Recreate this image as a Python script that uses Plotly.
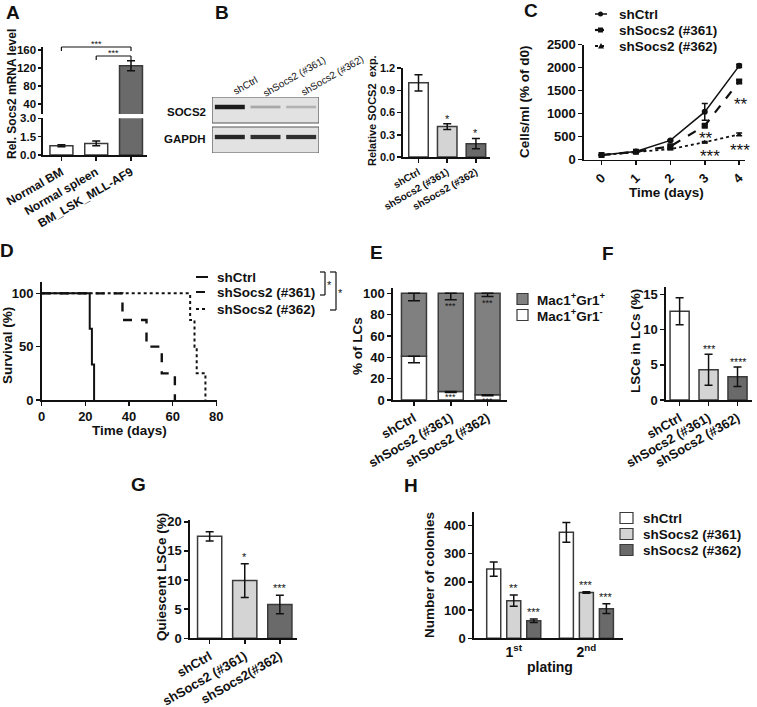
import plotly.graph_objects as go

W, H = 757, 707
FONT = "Liberation Sans, Arial, sans-serif"
BLACK = "#111111"
OUTLINE = "#3a3a3a"
C_WHITE = "#ffffff"
C_LIGHT = "#d4d4d4"
C_DARK = "#6a6a6a"
C_E = "#808080"

# ------------------------------------------------------------------ data
# A
a_cats = ["Normal BM", "Normal spleen", "BM_LSK_MLL-AF9"]
a_vals = [0.75, 0.95, 125.0]
a_errs = [0.08, 0.2, 11.0]
a_colors = [C_WHITE, C_WHITE, C_DARK]

# B
sh_cats = ["shCtrl", "shSocs2 (#361)", "shSocs2 (#362)"]
b_vals = [1.0, 0.41, 0.18]
b_errs = [0.11, 0.04, 0.07]
b_sig = ["", "*", "*"]
blot_rows = ["SOCS2", "GAPDH"]
blot_socs2 = [1.0, 0.3, 0.25]
blot_gapdh = [0.95, 0.9, 0.9]

# C
c_days = [0, 1, 2, 3, 4]
c_ctrl = [100, 180, 420, 1040, 2040]
c_ctrl_err = [0, 0, 15, 180, 35]
c_361 = [100, 175, 290, 740, 1700]
c_361_err = [0, 0, 20, 25, 30]
c_362 = [100, 170, 230, 380, 550]
c_362_err = [0, 0, 15, 15, 30]
c_names = ["shCtrl", "shSocs2 (#361)", "shSocs2 (#362)"]

# D
d_ctrl_t = [0, 22, 23, 24]
d_ctrl_s = [100, 66.7, 33.3, 0]
d_361_t = [0, 37, 48, 55, 61]
d_361_s = [100, 75, 50, 25, 0]
d_362_t = [0, 68, 70, 71, 75]
d_362_s = [100, 75, 50, 25, 0]

# E
e_neg = [41, 8, 5]          # Mac1+Gr1-
e_neg_err = [6, 1, 1]
e_pos = [59, 92, 95]        # Mac1+Gr1+
e_pos_err = [7, 6, 3]
e_sig_pos = ["", "***", "***"]
e_sig_neg = ["", "***", "***"]
e_names = ["Mac1<sup>+</sup>Gr1<sup>+</sup>", "Mac1<sup>+</sup>Gr1<sup>-</sup>"]

# F
f_vals = [12.6, 4.3, 3.3]
f_errs = [1.9, 2.2, 1.4]
f_sig = ["", "***", "****"]

# G
g_cats = ["shCtrl", "shSocs2 (#361)", "shSocs2(#362)"]
g_vals = [17.5, 9.9, 5.8]
g_errs = [0.8, 2.9, 1.6]
g_sig = ["", "*", "***"]

# H
h_cats = ["1st", "2nd"]
h_ticks = ["1<sup>st</sup>", "2<sup>nd</sup>"]
h_ctrl = [245, 375]
h_ctrl_err = [25, 35]
h_361 = [133, 162]
h_361_err = [20, 3]
h_362 = [62, 105]
h_362_err = [6, 17]
h_sig_ctrl = ["", ""]
h_sig_361 = ["**", "***"]
h_sig_362 = ["***", "***"]


# ------------------------------------------------------------------ helpers
def px(x):
    return x / W


def py(y):
    return 1 - y / H


def dx(a, b):
    return [a / W, b / W]


def dy(top, bottom):
    return [1 - bottom / H, 1 - top / H]


def tf(size, bold=True):
    d = dict(family=FONT, size=size, color=BLACK)
    if bold:
        d["weight"] = "bold"
    return d


def axis(dom, rng, size=13, **kw):
    d = dict(domain=dom, range=rng, showline=True, linecolor=BLACK, linewidth=1.6,
             ticks="outside", ticklen=4, tickwidth=1.5, tickcolor=BLACK, automargin=False,
             showgrid=False, zeroline=False, tickfont=tf(size), fixedrange=True)
    d.update(kw)
    return d


def ax_ids(n):
    return ("x", "y") if n == 1 else ("x%d" % n, "y%d" % n)


fig = go.Figure()
ann = []
shapes = []


def bars(n, x, y, width, colors, err, offset=None, base=None):
    xa, ya = ax_ids(n)
    kw = {}
    if offset is not None:
        kw["offset"] = offset
    if base is not None:
        kw["base"] = base
    fig.add_trace(go.Bar(
        x=x, y=y, width=width, xaxis=xa, yaxis=ya, showlegend=False,
        marker=dict(color=colors, line=dict(color=OUTLINE, width=1.5)),
        error_y=dict(type="data", array=err, visible=err is not None, color=BLACK,
                     thickness=1.5, width=4),
        hoverinfo="skip", **kw))


def sig(n, xs, tops, labels, size, yshift=0, yanchor="bottom"):
    xa, ya = ax_ids(n)
    for x, t, lab in zip(xs, tops, labels):
        if lab:
            ann.append(dict(x=x, y=t, xref=xa, yref=ya, text=lab, showarrow=False,
                            yanchor=yanchor, xanchor="center", yshift=yshift,
                            font=tf(size, bold=False)))


def text(x, y, s, size, angle=0, xanchor="center", bold=True):
    ann.append(dict(x=px(x), y=py(y), xref="paper", yref="paper", text=s, showarrow=False,
                    textangle=angle, xanchor=xanchor, yanchor="middle", font=tf(size, bold)))


def pline(x0, y0, x1, y1, width=1.5, dash="solid"):
    shapes.append(dict(type="line", xref="paper", yref="paper", x0=px(x0), y0=py(y0),
                       x1=px(x1), y1=py(y1), line=dict(color=BLACK, width=width, dash=dash)))


def prect(x0, y0, x1, y1, fill):
    shapes.append(dict(type="rect", xref="paper", yref="paper", x0=px(x0), y0=py(y0),
                       x1=px(x1), y1=py(y1), fillcolor=fill,
                       line=dict(color=OUTLINE, width=1.2)))


layout_axes = {}

# ------------------------------------------------------------------ A (broken axis)
lower_max, upper_min = 3.0, 17.8
bars(1, a_cats, a_vals, 0.66, a_colors,
     [e if v < lower_max else 0 for v, e in zip(a_vals, a_errs)])
bars(2, a_cats, [v if v > upper_min else None for v in a_vals], 0.66, a_colors, a_errs)
layout_axes["xaxis"] = axis(dx(43, 147), [-0.53, 2.46], 12, anchor="y", tickangle=-30)
layout_axes["yaxis"] = axis(dy(118.3, 155), [0, lower_max], 11.5, anchor="x", ticklen=3,
                            tickvals=[0, 1.5, 3.0], tickformat=".1f")
layout_axes["xaxis2"] = axis(dx(43, 147), [-0.53, 2.46], 12, anchor="y2", visible=False)
layout_axes["yaxis2"] = axis(dy(47, 114), [upper_min, 166.7], 11.5, anchor="x2", ticklen=3,
                             tickvals=[40, 80, 120, 160])
# significance brackets
for (i0, i1, ytop) in [(0, 2, 47), (1, 2, 56)]:
    for (a, b, c, d) in [(i0, ytop, i1, ytop), (i0, ytop, i0, ytop + 4), (i1, ytop, i1, ytop + 4)]:
        shapes.append(dict(type="line", xref="x", yref="paper", x0=a, x1=c,
                           y0=py(b), y1=py(d), line=dict(color=BLACK, width=1.2)))
    ann.append(dict(x=(i0 + i1) / 2, y=py(ytop), xref="x", yref="paper", text="***",
                    showarrow=False, yanchor="bottom", yshift=-4, font=tf(9, False)))
text(12, 94, "Rel. Socs2 mRNA level", 12, -90)

# ------------------------------------------------------------------ B blot
lanes = list(range(len(sh_cats)))
for row_y, intens in ((46, blot_socs2), (16, blot_gapdh)):
    for lane, it in zip(lanes, intens):
        g = int(228 - 200 * it)
        fig.add_trace(go.Scatter(x=[lane - 0.42, lane + 0.42], y=[row_y, row_y], mode="lines",
                                 line=dict(color="rgb(%d,%d,%d)" % (g, g, g), width=2 + 2.5 * it),
                                 xaxis="x3", yaxis="y3", hoverinfo="skip", showlegend=False))
for (y0, y1) in [(30, 56), (0, 26)]:
    shapes.append(dict(type="rect", xref="x3", yref="y3", x0=-0.5, x1=2.5, y0=y0, y1=y1,
                       fillcolor="#e2e2e2", line=dict(color="#555555", width=1.2), layer="below"))
layout_axes["xaxis3"] = dict(domain=dx(212, 319), range=[-0.5, 2.5], visible=False, anchor="y3",
                             automargin=False)
layout_axes["yaxis3"] = dict(domain=dy(97, 153), range=[0, 56], visible=False, anchor="x3",
                             automargin=False)
text(208, 112, blot_rows[0], 11.5, xanchor="right")
text(208, 139, blot_rows[1], 11.5, xanchor="right")
for (cx, cy), lab in zip([(245, 85), (294, 76), (332, 75)], sh_cats):
    text(cx, cy, lab, 10, -30, bold=False)

# B bars
bars(4, sh_cats, b_vals, 0.68, [C_WHITE, C_LIGHT, C_DARK], b_errs)
layout_axes["xaxis4"] = axis(dx(403, 490), [-0.54, 2.49], 10, anchor="y4", tickangle=-30)
layout_axes["yaxis4"] = axis(dy(68, 157), [0, 1.2], 11, anchor="x4",
                             tickvals=[0, 0.3, 0.6, 0.9, 1.2], tickformat=".1f")
sig(4, sh_cats, [v + e for v, e in zip(b_vals, b_errs)], b_sig, 11, yshift=-3)
text(372, 111, "Relative SOCS2\u00a0\u00a0exp.", 11, -90)

# ------------------------------------------------------------------ C growth
c_series = [(c_ctrl, c_ctrl_err, "solid", "circle", 6, 1.5),
            (c_361, c_361_err, "dash", "square", 6, 2.2),
            (c_362, c_362_err, "dot", "triangle-up", 5, 1.8)]
for (vals, err, dash, sym, ms, lw), name in zip(c_series, c_names):
    fig.add_trace(go.Scatter(x=c_days, y=vals, mode="lines+markers", name=name,
                             line=dict(color=BLACK, width=lw, dash=dash),
                             marker=dict(symbol=sym, size=ms, color=BLACK),
                             error_y=dict(type="data", array=err, color=BLACK, thickness=1.5, width=3),
                             xaxis="x5", yaxis="y5", showlegend=False, hoverinfo="skip"))
layout_axes["xaxis5"] = axis(dx(584, 745), [-0.51, 4.17], 13, anchor="y5",
                             tickvals=c_days, tickangle=-45)
layout_axes["yaxis5"] = axis(dy(44.7, 159.7), [0, 2500], 13, anchor="x5",
                             tickvals=[0, 500, 1000, 1500, 2000, 2500])
for (x, y, s) in [(4.05, 1300, "**"), (3.05, 560, "**"), (3.15, 170, "***"), (4.02, 300, "***")]:
    ann.append(dict(x=x, y=y, xref="x5", yref="y5", text=s, showarrow=False,
                    font=tf(17, False), yanchor="middle", yshift=-5))
text(666, 192, "Time (days)", 13.5)
text(525, 102, "Cells/ml (% of d0)", 13.5, -90)
# legend C
for (yy, (vals, err, dash, sym, ms, lw)), name in zip(zip([14, 30, 46], c_series), c_names):
    pline(595, yy, 607, yy, width=lw, dash=dash)
    if sym == "circle":
        shapes.append(dict(type="circle", xref="paper", yref="paper", x0=px(598), x1=px(603),
                           y0=py(yy + 2.5), y1=py(yy - 2.5), fillcolor=BLACK, line=dict(width=0)))
    elif sym == "square":
        shapes.append(dict(type="rect", xref="paper", yref="paper", x0=px(598), x1=px(603),
                           y0=py(yy + 2.5), y1=py(yy - 2.5), fillcolor=BLACK, line=dict(width=0)))
    else:
        shapes.append(dict(type="path", xref="paper", yref="paper",
                           path="M %f,%f L %f,%f L %f,%f Z" % (px(598), py(yy + 2.5), px(604), py(yy + 2.5), px(601), py(yy - 3)),
                           fillcolor=BLACK, line=dict(width=0)))
    text(617, yy, name, 13.5, xanchor="left")

# ------------------------------------------------------------------ D survival
for t, s, dash, lw in [(d_ctrl_t, d_ctrl_s, "solid", 2), (d_361_t, d_361_s, "dash", 2.4),
                       (d_362_t, d_362_s, "dot", 2)]:
    fig.add_trace(go.Scatter(x=t, y=s, mode="lines", line=dict(color=BLACK, width=lw, dash=dash, shape="hv"),
                             xaxis="x6", yaxis="y6", showlegend=False, hoverinfo="skip"))
layout_axes["xaxis6"] = axis(dx(41.7, 217), [0, 80.3], 13, anchor="y6", tickvals=[0, 20, 40, 60, 80])
layout_axes["yaxis6"] = axis(dy(281.7, 400), [0, 110.9], 13, anchor="x6", tickvals=[0, 50, 100])
text(129, 430, "Time (days)", 13.5)
text(7, 346, "Survival (%)", 13.5, -90)
for yy, dash, name in zip([277, 292, 309], ["solid", "dash", "dot"], c_names):
    pline(196, yy, 208, yy, width=2, dash=dash)
    text(215, yy, name, 13.5, xanchor="left")
# brackets
pline(320, 272, 325, 272, 1.2); pline(325, 272, 325, 295, 1.2); pline(320, 295, 325, 295, 1.2)
pline(330, 272, 336, 272, 1.2); pline(336, 272, 336, 310, 1.2); pline(330, 310, 336, 310, 1.2)
text(329, 285, "*", 11, bold=False)
text(340, 293, "*", 11, bold=False)

# ------------------------------------------------------------------ E stacked
bars(7, sh_cats, e_neg, 0.68, C_WHITE, None)
bars(7, sh_cats, e_pos, 0.68, C_E, None, base=e_neg)
tot = [a + b for a, b in zip(e_neg, e_pos)]
for ys, em in [(e_neg, e_neg_err), (tot, e_pos_err)]:
    fig.add_trace(go.Scatter(x=sh_cats, y=ys, mode="markers", marker=dict(size=1, color="rgba(0,0,0,0)"),
                             error_y=dict(type="data", symmetric=False, array=[0] * len(ys), arrayminus=em,
                                          color=BLACK, thickness=1.5, width=6),
                             xaxis="x7", yaxis="y7", showlegend=False, hoverinfo="skip"))
layout_axes["xaxis7"] = axis(dx(393, 506.7), [-0.57, 2.52], 13, anchor="y7", tickangle=-30)
layout_axes["yaxis7"] = axis(dy(288.3, 400), [0, 104.7], 13, anchor="x7",
                             tickvals=[0, 20, 40, 60, 80, 100])
sig(7, sh_cats, [t - e for t, e in zip(tot, e_pos_err)], e_sig_pos, 9, yshift=1, yanchor="top")
sig(7, sh_cats, e_neg, e_sig_neg, 9, yshift=1, yanchor="top")
text(357, 346, "% of LCs", 13.5, -90)
prect(517, 293.5, 528, 304.5, C_E)
prect(517, 309.5, 528, 320.5, C_WHITE)
text(535, 299, e_names[0], 13.5, xanchor="left")
text(535, 315, e_names[1], 13.5, xanchor="left")

# ------------------------------------------------------------------ F
bars(8, sh_cats, f_vals, 0.66, [C_WHITE, C_LIGHT, C_DARK], f_errs)
layout_axes["xaxis8"] = axis(dx(666, 751.7), [-0.47, 2.49], 13, anchor="y8", tickangle=-30)
layout_axes["yaxis8"] = axis(dy(287.3, 400), [0, 16], 13, anchor="x8", tickvals=[0, 5, 10, 15])
sig(8, sh_cats, [v + e for v, e in zip(f_vals, f_errs)], f_sig, 10.5, yshift=-3)
text(635, 341, "LSCe in LCs (%)", 13.5, -90)

# ------------------------------------------------------------------ G
bars(9, g_cats, g_vals, 0.69, [C_WHITE, C_LIGHT, C_DARK], g_errs)
layout_axes["xaxis9"] = axis(dx(190, 296.7), [-0.56, 2.48], 13, anchor="y9", tickangle=-30)
layout_axes["yaxis9"] = axis(dy(520, 638.3), [0, 20.3], 13, anchor="x9", tickvals=[0, 5, 10, 15, 20])
sig(9, g_cats, [v + e for v, e in zip(g_vals, g_errs)], g_sig, 11, yshift=-1)
text(161, 577, "Quiescent LSCe (%)", 13.5, -90)

# ------------------------------------------------------------------ H grouped
h_w = 0.193
h_series = [(h_ctrl, h_ctrl_err, C_WHITE, h_sig_ctrl, -0.372),
            (h_361, h_361_err, C_LIGHT, h_sig_361, -0.0965),
            (h_362, h_362_err, C_DARK, h_sig_362, 0.179)]
for vals, err, col, sg, off in h_series:
    bars(10, h_cats, vals, h_w, col, err, offset=off)
    sig(10, [i + off + h_w / 2 for i in range(len(h_cats))], [v + e for v, e in zip(vals, err)],
        sg, 11, yshift=-1)
layout_axes["xaxis10"] = axis(dx(474, 622.7), [-0.547, 1.50], 14, anchor="y10",
                              tickvals=h_cats, ticktext=h_ticks, ticks="")
layout_axes["yaxis10"] = axis(dy(511.7, 638.3), [0, 448], 13, anchor="x10",
                              tickvals=[0, 100, 200, 300, 400])
text(550, 667, "plating", 14)
text(429, 575, "Number of colonies", 13.5, -90)
for yy, (vals, err, col, sg, off), name in zip([518, 534, 550], h_series, c_names):
    prect(620, yy - 5.5, 633, yy + 5.5, col)
    text(641, yy, name, 13.5, xanchor="left")

# ------------------------------------------------------------------ panel letters
for (x, y, s) in [(13, 13, "A"), (222, 12, "B"), (531, 11, "C"), (7, 250, "D"),
                  (376, 252, "E"), (608, 253, "F"), (138, 484, "G"), (411, 485, "H")]:
    text(x, y, s, 19)

fig.update_layout(width=W, height=H, margin=dict(l=0, r=0, t=0, b=0, autoexpand=False),
                  paper_bgcolor="white", plot_bgcolor="white", barmode="overlay",
                  showlegend=False, annotations=ann, shapes=shapes, hovermode=False,
                  font=dict(family=FONT, color=BLACK), **layout_axes)
fig.write_html("out.html", config={"displayModeBar": False, "staticPlot": True},
               post_script="document.body.style.margin='0';")
